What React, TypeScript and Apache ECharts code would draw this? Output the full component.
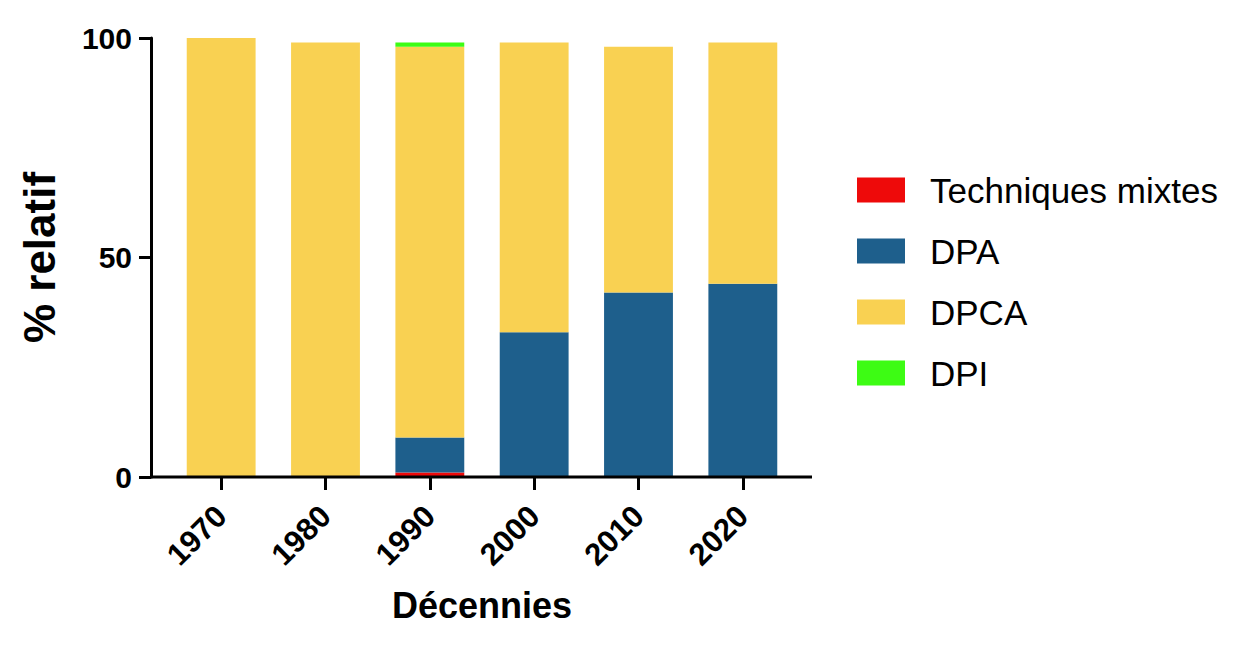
import React, { useEffect, useRef } from "react";
import * as echarts from "echarts";

const decades = ["1970", "1980", "1990", "2000", "2010", "2020"];
const mixtes = [0, 0, 1, 0, 0, 0];
const dpa = [0, 0, 8, 33, 42, 44];
const dpca = [100, 99, 89, 66, 56, 55];
const dpi = [0, 0, 1, 0, 0, 0];
const yTicks = [0, 50, 100];

const FONT = "'Liberation Sans', Arial, Helvetica, sans-serif";

export default function App() {
  const ref = useRef<HTMLDivElement>(null);
  useEffect(() => {
    if (!ref.current) return;
    const chart = echarts.init(ref.current, null, { renderer: "svg" });
    const mk = (name: string, data: number[], color: string) => ({
      name,
      type: "bar",
      stack: "all",
      data,
      barWidth: "66%",
      itemStyle: { color },
      emphasis: { disabled: true },
    });
    chart.setOption({
      animation: false,
      backgroundColor: "#ffffff",
      textStyle: { fontFamily: FONT },
      grid: { left: 169, right: 440, top: 38, bottom: 168, containLabel: false },
      legend: {
        orient: "vertical",
        left: 857,
        top: 170,
        padding: 0,
        itemWidth: 48,
        itemHeight: 25,
        itemGap: 21,
        icon: "rect",
        textStyle: { fontSize: 35, fontFamily: FONT, color: "#000", padding: [0, 0, 0, 20], lineHeight: 40 },
        data: ["Techniques mixtes", "DPA", "DPCA", "DPI"],
      },
      xAxis: {
        type: "category",
        data: decades,
        axisLine: { show: false },
        axisTick: { show: true, alignWithLabel: true, length: 13, lineStyle: { color: "#000", width: 3 } },
        axisLabel: {
          rotate: 45,
          fontSize: 31,
          fontWeight: "bold",
          color: "#000",
          fontFamily: FONT,
          margin: 34,
        },
        name: "Décennies",
        nameLocation: "middle",
        nameGap: 110,
        nameTextStyle: { fontSize: 36, fontWeight: "bold", color: "#000", fontFamily: FONT },
      },
      yAxis: {
        type: "value",
        min: 0,
        max: 100,
        interval: 50,
        offset: 18,
        splitLine: { show: false },
        axisLine: { show: true, lineStyle: { color: "#000", width: 3 } },
        axisTick: { show: true, length: 12, lineStyle: { color: "#000", width: 3 } },
        axisLabel: {
          fontSize: 30,
          fontWeight: "bold",
          color: "#000",
          fontFamily: FONT,
          margin: 19,
          formatter: (v: number) => (yTicks.includes(v) ? String(v) : ""),
        },
        name: "% relatif",
        nameLocation: "middle",
        nameGap: 90,
        nameTextStyle: { fontSize: 44, fontWeight: "bold", color: "#000", fontFamily: FONT },
      },
      graphic: [
        {
          type: "line",
          shape: { x1: 150, y1: 477, x2: 812, y2: 477 },
          style: { stroke: "#000", lineWidth: 3 },
          z: 100,
        },
      ],
      series: [
        mk("Techniques mixtes", mixtes, "#ee0a0a"),
        mk("DPA", dpa, "#1e5f8c"),
        mk("DPCA", dpca, "#f9d152"),
        mk("DPI", dpi, "#3dfc14"),
      ],
    });
    return () => chart.dispose();
  }, []);
  return <div ref={ref} style={{ width: 1235, height: 645, margin: -8 }} />;
}
